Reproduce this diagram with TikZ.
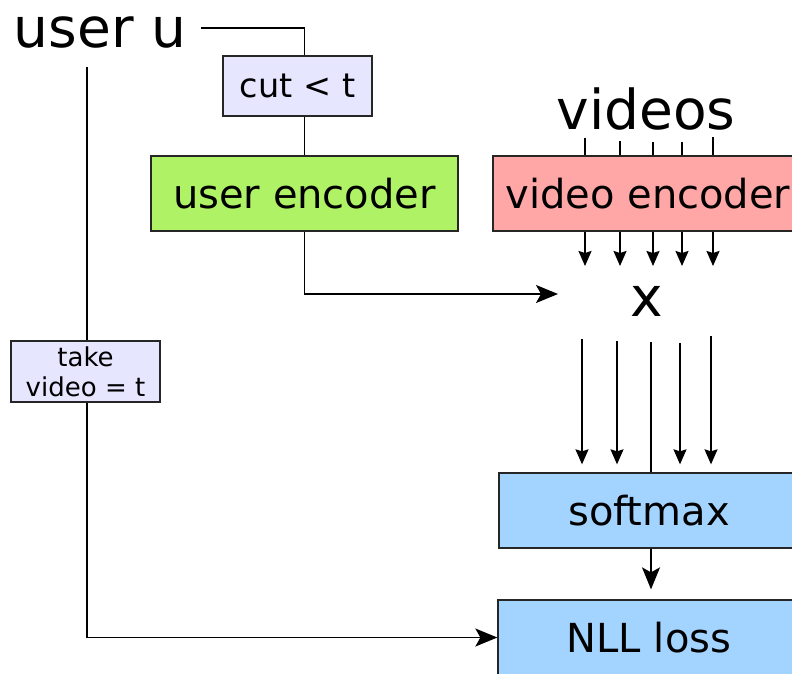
\documentclass[tikz,border=0pt]{standalone}
\usepackage{fontspec}
\setmainfont{DejaVu Sans}
\usetikzlibrary{arrows.meta,calc}
\definecolor{lav}{HTML}{E6E6FF}
\definecolor{ugreen}{HTML}{B0F266}
\definecolor{vred}{HTML}{FFA6A6}
\definecolor{sblue}{HTML}{A2D4FF}
\begin{document}
\begin{tikzpicture}[x=1pt,y=-1pt,line width=1.6pt,
  box/.style={draw=black!85,line width=1.3pt,inner sep=0pt,anchor=center,minimum height=75pt,font=\fontsize{40}{44}\selectfont},
  big/.style={font=\fontsize{55}{60}\selectfont,inner sep=0pt,anchor=base},
  sarr/.style={-{Stealth[length=15pt,width=13pt,inset=2pt]}},
  barr/.style={-{Stealth[length=22pt,width=18pt,inset=5pt]}}]
\useasboundingbox (0,0) rectangle (792,673);
\clip (0,0) rectangle (792,673);
% texts
\node[big] (user) at (100,47) {user u};
\node[big] (videos) at (646,129) {videos};
\node[big] (x) at (647,316) {x};
% boxes
\node[box,fill=lav,minimum width=149pt,minimum height=60pt,font=\fontsize{33.5}{36}\selectfont] (cut) at (297.5,86) {cut < t};
\node[box,fill=ugreen,minimum width=307pt] (ue) at (304.5,193.5) {user encoder};
\node[box,fill=vred,minimum width=310pt] (ve) at (648,193.5) {video encoder};
\node[box,fill=sblue,minimum width=300pt] (sm) at (649,510.5) {softmax};
\node[box,fill=sblue,minimum width=302pt] (nll) at (649,637.5) {NLL loss};
\node[box,fill=lav,minimum width=149pt,minimum height=61pt,align=center,font=\fontsize{26}{30}\selectfont] (take) at (85.5,371.5) {take\\video = t};
% coordinates
\coordinate (uR) at (201,28);
\coordinate (uL) at (87,67);
\coordinate (xin) at (558,294);
\coordinate (v1) at (585,138);
\coordinate (v2) at (620,141);
\coordinate (v3) at (653,142);
\coordinate (v4) at (682,142);
\coordinate (v5) at (713,137);
\coordinate (t1) at (585,266);
\coordinate (t2) at (620,266);
\coordinate (t3) at (653,266);
\coordinate (t4) at (682,266);
\coordinate (t5) at (713,266);
\coordinate (w1) at (582,339);
\coordinate (w2) at (617,341);
\coordinate (w3) at (651,342);
\coordinate (w4) at (680,343);
\coordinate (w5) at (711,336);
% connectors
\draw (uR) -| (ue.north |- cut.north);
\draw (ue.north |- cut.south) -- (ue.north);
\draw[barr] (ue.south) |- (xin);
\draw (uL) -- (uL |- take.north);
\draw[barr] (uL |- take.south) |- (nll.west);
\foreach \i in {1,...,5}{
  \draw (v\i) -- (v\i |- ve.north);
  \draw[sarr] (v\i |- ve.south) -- (t\i);
}
\foreach \i in {1,2,4,5}{
  \draw[sarr,shorten >=8pt] (w\i) -- (w\i |- sm.north);
}
\draw[line width=2.2pt] (w3) -- (w3 |- sm.north);
\draw[barr,shorten >=10pt] (w3 |- sm.south) -- (w3 |- nll.north);
\end{tikzpicture}
\end{document}
